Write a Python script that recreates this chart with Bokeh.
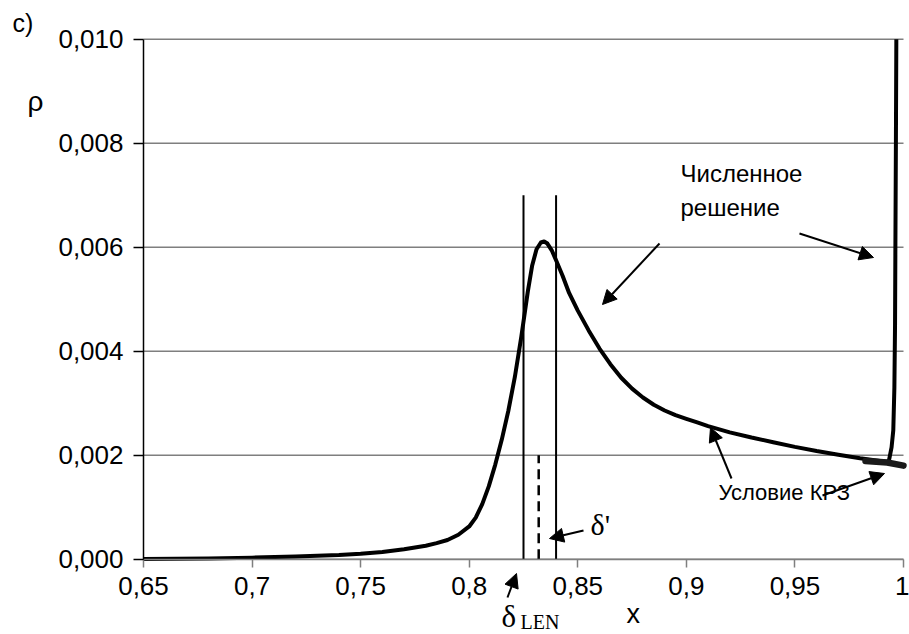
from bokeh.plotting import figure
from bokeh.models import Label, Arrow, NormalHead, FixedTicker, LinearAxis
from bokeh.embed import file_html
from bokeh.resources import INLINE

# ---- data ----
x_num = [0.65, 0.68, 0.70, 0.72, 0.74, 0.75, 0.76, 0.77, 0.78, 0.785, 0.79, 0.795, 0.80,
         0.803, 0.806, 0.809, 0.812, 0.815, 0.818, 0.821, 0.824, 0.827, 0.829, 0.831,
         0.833, 0.8345, 0.836, 0.838, 0.840, 0.843, 0.846, 0.850, 0.855, 0.860, 0.865,
         0.870, 0.875, 0.880, 0.885, 0.890, 0.895, 0.900, 0.905, 0.910, 0.920, 0.930,
         0.940, 0.950, 0.960, 0.970, 0.980, 0.9925, 0.9933, 0.9936, 0.9945, 0.9953,
         0.9958, 0.9961, 0.9963, 0.9965, 0.9967]
rho_num = [0.000005, 0.000015, 0.00003, 0.00005, 0.00008, 0.000105, 0.00014, 0.00019,
           0.00026, 0.00031, 0.00037, 0.00047, 0.00063, 0.00080, 0.00106, 0.00140,
           0.00182, 0.00230, 0.00285, 0.00350, 0.00428, 0.00515, 0.00565, 0.00596,
           0.00609, 0.00611, 0.00607, 0.00594, 0.00575, 0.00545, 0.00512, 0.00478,
           0.00440, 0.00405, 0.00375, 0.00349, 0.00328, 0.00311, 0.00297, 0.00286,
           0.00277, 0.00270, 0.00263, 0.00256, 0.00244, 0.00234, 0.00225, 0.00216,
           0.00208, 0.00201, 0.00194, 0.00187, 0.0019, 0.00196, 0.00215, 0.00248,
           0.0033, 0.0045, 0.0063, 0.0080, 0.0100]
x_krz = [0.9825, 0.9925, 1.0]
rho_krz = [0.00189, 0.00186, 0.0018]

delta_lines_x = [0.825, 0.840]
delta_lines_top = [0.007, 0.007]
delta_mid_x = [0.832]
delta_mid_top = [0.002]

x_ticks = [0.65, 0.7, 0.75, 0.8, 0.85, 0.9, 0.95, 1.0]
x_tick_labels = ["0,65", "0,7", "0,75", "0,8", "0,85", "0,9", "0,95", "1"]
y_ticks = [0.0, 0.002, 0.004, 0.006, 0.008, 0.010]
y_tick_labels = ["0,000", "0,002", "0,004", "0,006", "0,008", "0,010"]

X_MIN, X_MAX = x_ticks[0], x_ticks[-1]
Y_MIN, Y_MAX = y_ticks[0], y_ticks[-1]

# pixel geometry of the plotting area inside the 909x634 canvas
W, H = 909, 634
L_PX, R_PX, T_PX, B_PX = 143, 903, 38.7, 558.7

def dx(px):
    return X_MIN + (px - L_PX) / (R_PX - L_PX) * (X_MAX - X_MIN)

def dy(py):
    return Y_MIN + (B_PX - py) / (B_PX - T_PX) * (Y_MAX - Y_MIN)

# ---- figure: frame fills the canvas, axes are pinned at fixed data locations ----
p = figure(width=W, height=H, x_range=(dx(0), dx(W)), y_range=(dy(H), dy(0)),
           output_backend="svg", toolbar_location=None,
           x_axis_location=None, y_axis_location=None,
           min_border_left=0, min_border_right=0, min_border_top=0, min_border_bottom=0)
p.outline_line_color = None
p.background_fill_color = "white"
p.border_fill_color = "white"
p.grid.visible = False

SANS = "Liberation Sans"
SERIF = "Liberation Serif"

# horizontal gridlines at y ticks, spanning the plot area
p.segment(x0=[X_MIN] * len(y_ticks), y0=y_ticks, x1=[X_MAX] * len(y_ticks), y1=y_ticks,
          line_color="#7f7f7f", line_width=1.5)

xaxis = LinearAxis(fixed_location=Y_MIN, bounds=(X_MIN, X_MAX),
                   ticker=FixedTicker(ticks=x_ticks),
                   major_label_overrides={t: l for t, l in zip(x_ticks, x_tick_labels)})
yaxis = LinearAxis(fixed_location=X_MIN, bounds=(Y_MIN, Y_MAX),
                   ticker=FixedTicker(ticks=y_ticks),
                   major_label_overrides={t: l for t, l in zip(y_ticks, y_tick_labels)})
for ax in (xaxis, yaxis):
    ax.minor_tick_line_color = None
    ax.major_tick_in = 0
    ax.major_label_text_font = SANS
    ax.major_label_text_font_size = "26px"
    ax.major_label_text_color = "black"
xaxis.axis_line_color = "#7f7f7f"
xaxis.axis_line_width = 1.5
xaxis.major_tick_line_color = "#7f7f7f"
xaxis.major_tick_line_width = 1.5
xaxis.major_tick_out = 8
xaxis.major_label_standoff = 10
yaxis.axis_line_color = "black"
yaxis.axis_line_width = 1.5
yaxis.major_tick_line_color = "black"
yaxis.major_tick_line_width = 1.5
yaxis.major_tick_out = 10
yaxis.major_label_standoff = 10
p.add_layout(xaxis, "below")
p.add_layout(yaxis, "left")

# vertical delta lines
p.segment(x0=delta_lines_x, y0=[0, 0], x1=delta_lines_x, y1=delta_lines_top,
          line_color="black", line_width=2)
p.segment(x0=delta_mid_x, y0=[0], x1=delta_mid_x, y1=delta_mid_top,
          line_color="black", line_width=2.5, line_dash="10 6")

# curves
p.line(x_num, rho_num, line_color="black", line_width=4, line_join="round", line_cap="butt")
p.line(x_krz, rho_krz, line_color="#1a1a1a", line_width=6.5, line_cap="round")

# ---- annotations ----
SHIFT = -9  # baseline correction

def lab(text, px, py, size, font=SANS):
    p.add_layout(Label(x=dx(px), y=dy(py + SHIFT), text=text, text_font=font,
                       text_font_size=size, text_color="black",
                       text_baseline="alphabetic", text_align="left"))

lab("c)", 12, 31, "25px")
lab("ρ", 27, 110, "28px")
lab("x", 626, 622, "27px")
lab("Численное", 680, 182, "24px")
lab("решение", 680, 216, "24px")
lab("Условие КРЗ", 718, 501, "22px")
lab("δ", 501, 625, "31px", SERIF)
lab("LEN", 520, 630, "20px", SERIF)
lab("δ'", 590, 533, "30px", SERIF)

def arrow(x0, y0, x1, y1):
    p.add_layout(Arrow(end=NormalHead(size=14, fill_color="black", line_color="black"),
                       x_start=dx(x0), y_start=dy(y0), x_end=dx(x1), y_end=dy(y1),
                       line_color="black", line_width=2))

arrow(659, 243, 602, 304)
arrow(799, 233, 873, 257)
arrow(731, 478, 710, 427)
arrow(822, 495, 884, 473)
arrow(583, 530, 549, 538)
arrow(507, 597, 516, 573)

open("out.html", "w").write(file_html(p, INLINE))
